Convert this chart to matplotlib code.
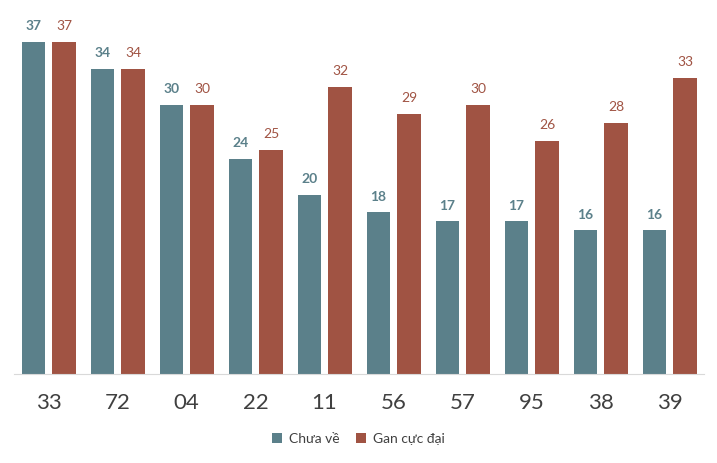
import numpy as np
import matplotlib.pyplot as plt

plt.rcParams['font.family'] = ['Lato', 'DejaVu Sans']

# data
numbers = ['33', '72', '04', '22', '11', '56', '57', '95', '38', '39']
chua_ve = [37, 34, 30, 24, 20, 18, 17, 17, 16, 16]
gan_cuc_dai = [37, 34, 30, 25, 32, 29, 30, 26, 28, 33]

teal = '#5b808a'
red = '#a05343'

fig = plt.figure(figsize=(7.17, 4.63), dpi=100)
ax = fig.add_axes([14 / 717, 89 / 463, 690 / 717, 359 / 463])

x = np.arange(len(numbers))
w = 0.335
b1 = ax.bar(x - 0.22, chua_ve, w, color=teal, label='Chưa về')
b2 = ax.bar(x + 0.225, gan_cuc_dai, w, color=red, label='Gan cực đại')

for rect, v in zip(b1, chua_ve):
    ax.text(rect.get_x() + rect.get_width() / 2, v + 1.1, str(v), ha='center', va='bottom',
            fontsize=10, fontweight='bold', color=teal)
for rect, v in zip(b2, gan_cuc_dai):
    ax.text(rect.get_x() + rect.get_width() / 2, v + 1.1, str(v), ha='center', va='bottom',
            fontsize=10, color=red)

ax.set_xlim(-0.5, len(numbers) - 0.5)
ax.set_ylim(0, 40)
ax.set_xticks(x)
ax.set_xticklabels(numbers, fontsize=16, color='#404040')
ax.tick_params(axis='x', length=0, pad=14)
ax.set_yticks([])
for s in ['top', 'right', 'left']:
    ax.spines[s].set_visible(False)
ax.spines['bottom'].set_color('#d9d9d9')

fig.legend(loc='center', bbox_to_anchor=(0.5, 1 - 439 / 463), ncol=2, frameon=False,
           fontsize=10, handlelength=0.7, handleheight=0.7, handletextpad=0.5,
           columnspacing=1.2, labelcolor='#404040')

fig.savefig('out.png', dpi=100)
